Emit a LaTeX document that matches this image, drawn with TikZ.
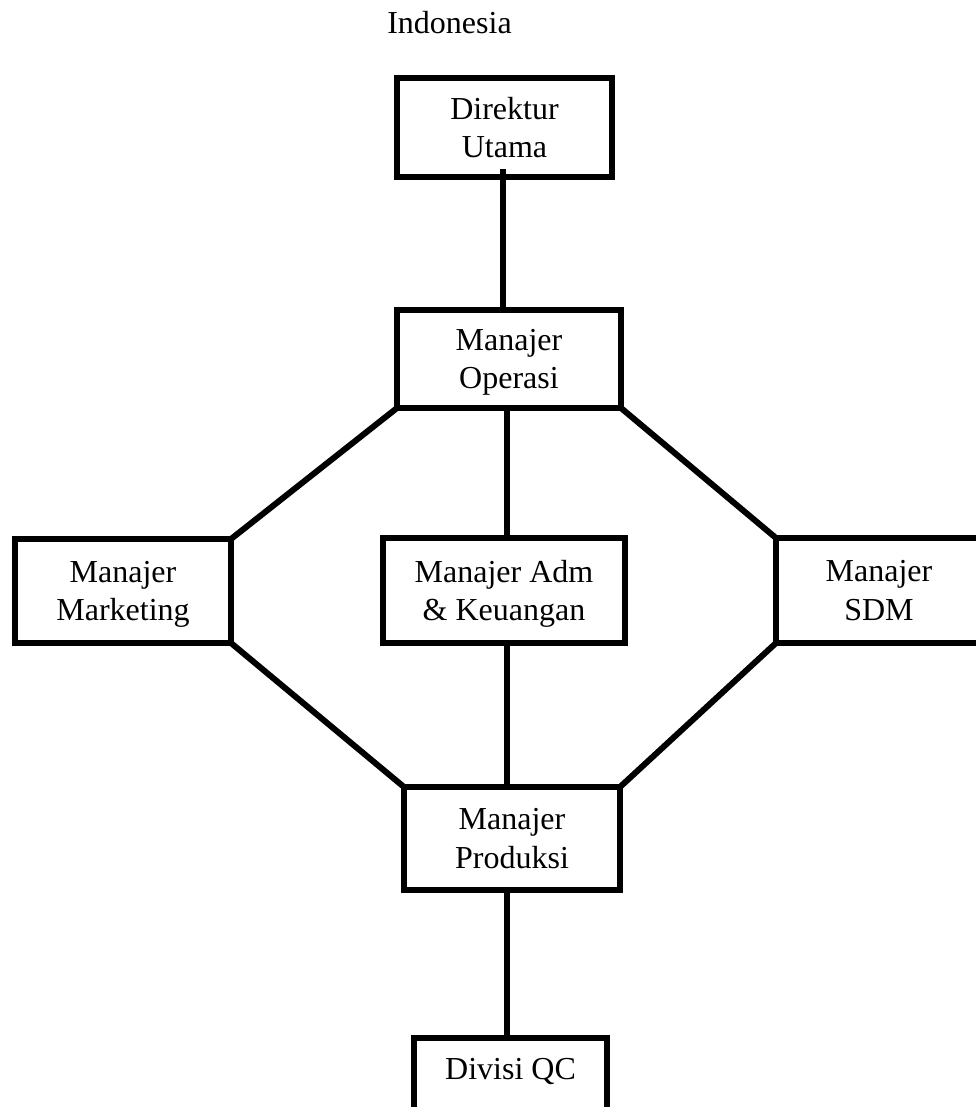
\documentclass[tikz,border=0pt]{standalone}
\usepackage{fontspec}
\setmainfont{Liberation Serif}
\begin{document}
\begin{tikzpicture}[x=0.75pt,y=-0.75pt,
  box/.style={draw, line width=4.5pt, inner sep=0pt, outer sep=0pt, align=center,
    text depth=-5pt, font=\fontsize{24}{29}\selectfont},
  conn/.style={line width=4.5pt},
  titletext/.style={inner sep=0pt, font=\fontsize{24}{29}\selectfont}]
\useasboundingbox (0,0) rectangle (975,1107);
\fill[white] (0,0) rectangle (975,1107);
\node[titletext, anchor=base east] (title) at (512,33) {Indonesia};
\node[box, minimum width=161.25pt, minimum height=74.25pt] (dir) at (504.5,127.5) {Direktur\\Utama};
\node[box, minimum width=168pt, minimum height=73.5pt] (op) at (509,359) {Manajer\\Operasi};
\node[box, minimum width=162pt, minimum height=78pt] (mkt) at (123,591) {Manajer\\Marketing};
\node[box, minimum width=181.5pt, minimum height=78.75pt] (adm) at (504,590.5) {Manajer Adm\\\& Keuangan};
\node[box, minimum width=154.5pt, minimum height=78.75pt] (sdm) at (879,590.5) {Manajer\\SDM};
\node[box, minimum width=162pt, minimum height=77.25pt] (prod) at (512,838.5) {Manajer\\Produksi};
\node[box, minimum width=144.75pt, minimum height=61.5pt, text height=8pt, text depth=7pt] (qc) at (510.5,1079) {Divisi QC};
\coordinate (xa) at (503,0);
\coordinate (xb) at (507,0);
\draw[conn] ([yshift=6pt]dir.south -| xa) -- (op.north -| xa);
\draw[conn] (op.south -| xb) -- (adm.north -| xb);
\draw[conn] (adm.south -| xb) -- (prod.north -| xb);
\draw[conn] (prod.south -| xb) -- (qc.north -| xb);
\draw[conn] (op.south west) -- (mkt.north east);
\draw[conn] (op.south east) -- (sdm.north west);
\draw[conn] (mkt.south east) -- (prod.north west);
\draw[conn] (sdm.south west) -- (prod.north east);
\end{tikzpicture}
\end{document}
